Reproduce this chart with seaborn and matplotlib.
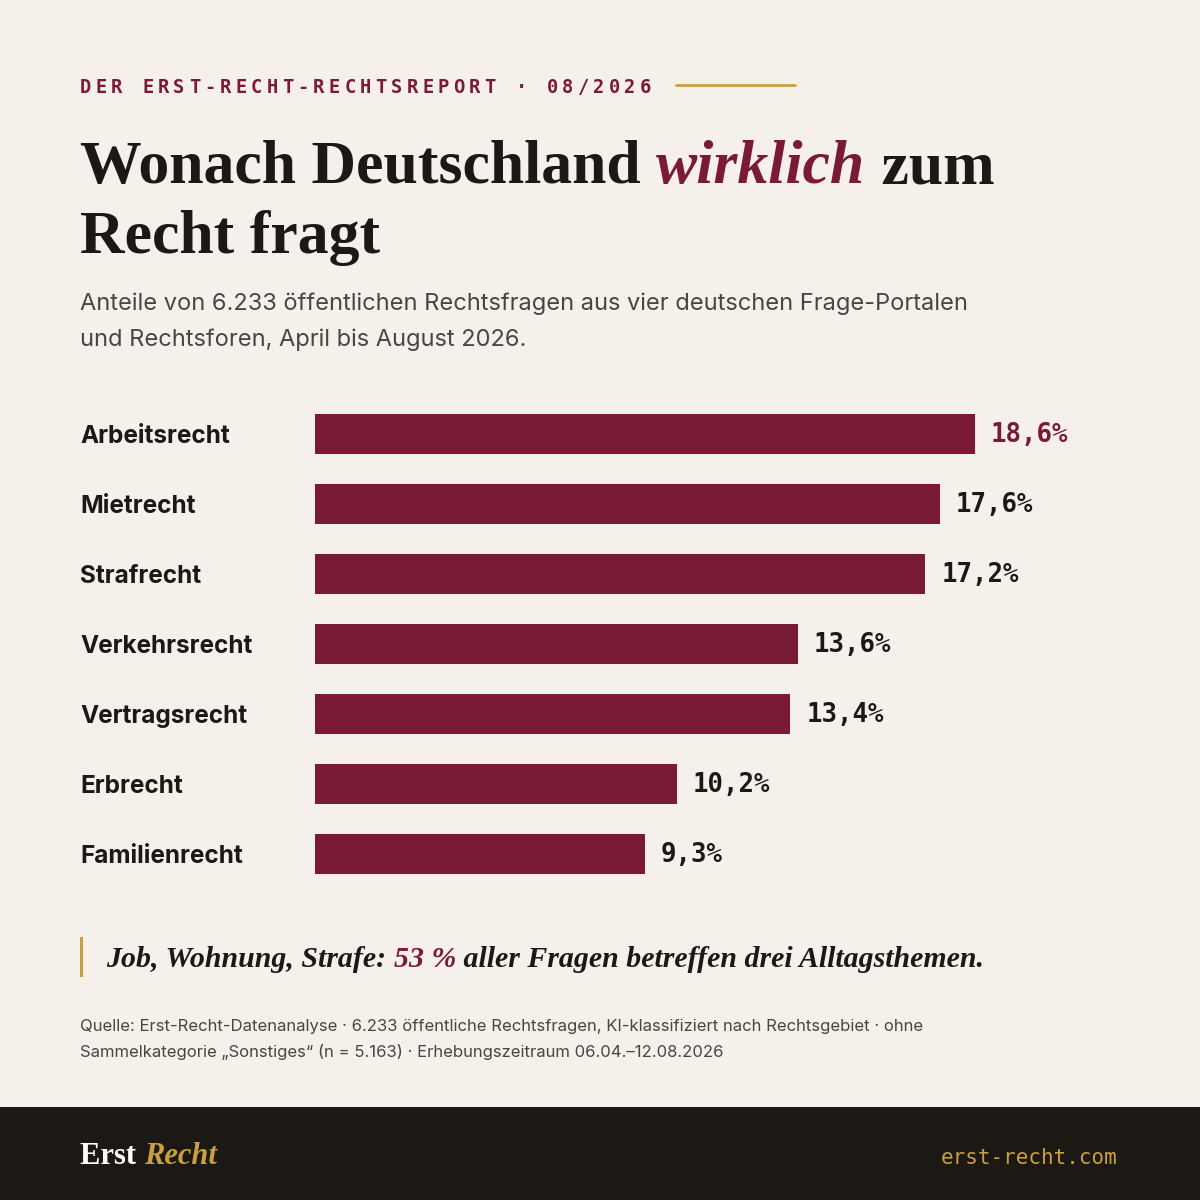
import matplotlib
matplotlib.use("Agg")
import matplotlib.pyplot as plt
import matplotlib.transforms as mtransforms
from matplotlib.patches import Rectangle
import seaborn as sns
import pandas as pd

# data
categories = ["Arbeitsrecht", "Mietrecht", "Strafrecht", "Verkehrsrecht",
              "Vertragsrecht", "Erbrecht", "Familienrecht"]
shares = [18.6, 17.6, 17.2, 13.6, 13.4, 10.2, 9.3]
value_labels = ["18,6%", "17,6%", "17,2%", "13,6%", "13,4%", "10,2%", "9,3%"]

BG = "#F5F0E9"
CRIMSON = "#7A1A35"
GOLD = "#C9A040"
INK = "#1C1814"
GRAY = "#4A4540"

sns.set_theme(style="white")
plt.rcParams["font.family"] = ["Inter", "DejaVu Sans"]

W = H = 1200
fig = plt.figure(figsize=(12, 12), dpi=100, facecolor=BG)


def fx(px):
    return px / W


def fy(py):
    return 1 - py / H


def seq_text(x_px, y_px, pieces, **common):
    # draw text pieces next to each other, baseline aligned
    r = fig.canvas.get_renderer()
    x = fx(x_px)
    for s, kw in pieces:
        t = fig.text(x, fy(y_px), s, va="baseline", **common, **kw)
        bb = t.get_window_extent(renderer=r)
        x = fig.transFigure.inverted().transform((bb.x1, bb.y0))[0]
    return x


# header line with tracking
header = "DER ERST-RECHT-RECHTSREPORT · 08/2026"
for i, ch in enumerate(header):
    fig.text(fx(80 + i * 15.55), fy(93), ch, family="DejaVu Sans Mono",
             fontsize=13.5, fontweight="bold", color=CRIMSON, va="baseline")
fig.add_artist(plt.Line2D([fx(676), fx(795)], [fy(85), fy(85)],
                          color=GOLD, lw=2))

# title
serif = "Liberation Serif"
seq_text(80, 183, [("Wonach Deutschland ", dict(color=INK)),
                   ("wirklich", dict(color=CRIMSON, style="italic")),
                   (" zum", dict(color=INK))],
         family=serif, fontsize=44.5, fontweight="bold")
fig.text(fx(80), fy(253), "Recht fragt", family=serif, fontsize=44.5,
         fontweight="bold", color=INK, va="baseline")

# subtitle
fig.text(fx(80), fy(310), "Anteile von 6.233 öffentlichen Rechtsfragen aus vier deutschen Frage-Portalen",
         fontsize=17, color=GRAY, va="baseline")
fig.text(fx(80), fy(346), "und Rechtsforen, April bis August 2026.",
         fontsize=17, color=GRAY, va="baseline")

# bar chart
px_per_pct = 660 / 18.6
ax = fig.add_axes([fx(315), fy(889), 800 / W, 490 / H])
ax.set_facecolor(BG)
df = pd.DataFrame({"cat": categories, "share": shares})
sns.barplot(data=df, x="share", y="cat", orient="h", color=CRIMSON,
            saturation=1, width=40 / 70, linewidth=0, ax=ax)
ax.set_xlim(0, 800 / px_per_pct)
ax.set_ylim(6.5, -0.5)
ax.axis("off")
blend = mtransforms.blended_transform_factory(fig.transFigure, ax.transData)
for i, (c, v, lab) in enumerate(zip(categories, shares, value_labels)):
    ax.text(fx(80), i + 0.04, c, transform=blend, fontsize=17.5, fontweight="bold",
            color=INK, va="center", ha="left")
    ax.text(v + 16 / px_per_pct, i + 0.02, lab, family="DejaVu Sans Mono",
            fontsize=18.5, fontweight="bold", va="center", ha="left",
            color=CRIMSON if i == 0 else INK)

# quote
fig.add_artist(Rectangle((fx(80), fy(977)), fx(3), 40 / H,
                         transform=fig.transFigure, color=GOLD, lw=0))
seq_text(106, 967, [("Job, Wohnung, Strafe: ", dict(color=INK)),
                    ("53 %", dict(color=CRIMSON)),
                    (" aller Fragen betreffen drei Alltagsthemen.", dict(color=INK))],
         family=serif, fontsize=21.5, fontweight="bold", style="italic")

# source
fig.text(fx(80), fy(1031), "Quelle: Erst-Recht-Datenanalyse · 6.233 öffentliche Rechtsfragen, KI-klassifiziert nach Rechtsgebiet · ohne",
         fontsize=12, color=GRAY, va="baseline")
fig.text(fx(80), fy(1057), "Sammelkategorie „Sonstiges“ (n = 5.163) · Erhebungszeitraum 06.04.–12.08.2026",
         fontsize=12, color=GRAY, va="baseline")

# footer
fig.add_artist(Rectangle((0, 0), 1, 93 / H, transform=fig.transFigure,
                         color=INK, lw=0))
seq_text(80, 1164, [("Erst ", dict(color="white")),
                    ("Recht", dict(color=GOLD, style="italic"))],
         family=serif, fontsize=22, fontweight="bold")
fig.text(fx(1118), fy(1164), "erst-recht.com", family="DejaVu Sans Mono",
         fontsize=15, color=GOLD, ha="right", va="baseline")

fig.savefig("out.png", dpi=100, facecolor=BG)
